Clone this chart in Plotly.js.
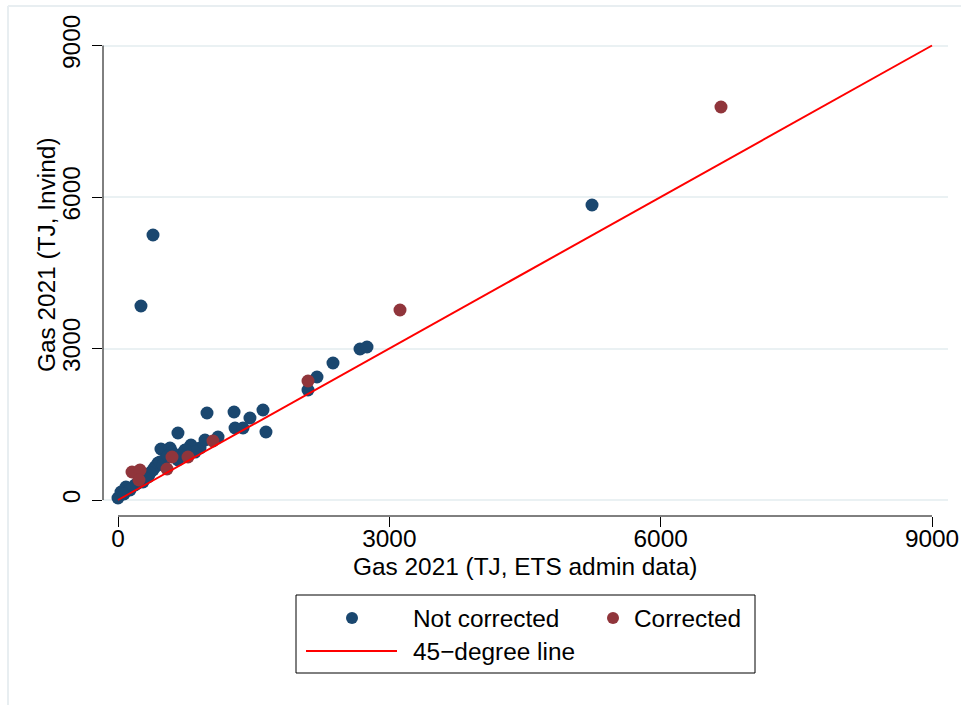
<!DOCTYPE html>
<html>
<head>
<meta charset="utf-8">
<script src="https://cdn.plot.ly/plotly-3.0.1.min.js"></script>
<style>
  html, body { margin: 0; padding: 0; background: #ffffff; }
  #chart { width: 961px; height: 705px; }
</style>
</head>
<body>
<div id="chart"></div>
<script>
// ---- Data ----
const notCorrectedX = [5241, 387, 254, 2676, 2753, 2377, 2200, 2101, 984, 1283, 1603, 1459, 1294, 1382, 1636, 1106,
  907, 807, 663, 475, 575, 796, 719, 851, 531, 663, 442, 409, 387, 332, 276, 188, 88, 33, 0,
  354, 464, 597, 630, 741, 962, 221, 133, 66, 299, 497, 553];
const notCorrectedY = [5842, 5248, 3842, 2990, 3030, 2713, 2436, 2178, 1723, 1743, 1782, 1624, 1426, 1426, 1347, 1248,
  1030, 1089, 1327, 1010, 1030, 1050, 931, 950, 832, 792, 733, 653, 594, 455, 356, 297, 257, 158, 40,
  535, 752, 950, 891, 990, 1188, 337, 198, 119, 436, 693, 871];
const correctedX = [6667, 3118, 2101, 1050, 774, 597, 542, 155, 243, 232];
const correctedY = [7782, 3762, 2356, 1168, 851, 851, 614, 554, 594, 396];
const lineX = [0, 9000];
const lineY = [0, 9000];
const tickVals = [0, 3000, 6000, 9000];
const tickText = ['0', '3000', '6000', '9000'];
const seriesNames = ['Not corrected', 'Corrected', '45\u2212degree line'];
const xTitle = 'Gas 2021 (TJ, ETS admin data)';
const yTitle = 'Gas 2021 (TJ, Invind)';

// ---- Styling ----
const W = 961, H = 705;
const M = { l: 103, r: 13, t: 30, b: 189 };
const PW = W - M.l - M.r, PH = H - M.t - M.b;
const px = v => (v - M.l) / PW;          // pixel x -> paper
const py = v => (H - M.b - v) / PH;      // pixel y -> paper
const BLUE = '#1a476f', MAROON = '#90353b', RED = '#ff0000';
const FONT = 'Liberation Sans, Arial, Helvetica, sans-serif';
const FS = 24.4;

const traces = [
  { x: notCorrectedX, y: notCorrectedY, type: 'scatter', mode: 'markers', name: seriesNames[0],
    marker: { color: BLUE, size: 13, line: { width: 0 } }, hoverinfo: 'x+y' },
  { x: correctedX, y: correctedY, type: 'scatter', mode: 'markers', name: seriesNames[1],
    marker: { color: MAROON, size: 13, line: { width: 0 } }, hoverinfo: 'x+y' },
  { x: lineX, y: lineY, type: 'scatter', mode: 'lines', name: seriesNames[2],
    line: { color: RED, width: 2 }, hoverinfo: 'skip' }
];

const axisCommon = {
  tickvals: tickVals, ticktext: tickText, ticks: 'outside', ticklen: 10, tickwidth: 1,
  tickcolor: '#000', showline: false, zeroline: false,
  tickfont: { family: FONT, size: FS, color: '#000' }
};

const legL = 296, legR = 755, legT = 595, legB = 673;
const layout = {
  width: W, height: H, margin: M,
  paper_bgcolor: '#ffffff', plot_bgcolor: '#ffffff',
  showlegend: false,
  font: { family: FONT, size: FS, color: '#000' },
  xaxis: Object.assign({}, axisCommon, {
    range: [-15 / (814 / 9000), 9000 + 16 / (814 / 9000)],
    showgrid: false, ticklabelstandoff: -9
  }),
  yaxis: Object.assign({}, axisCommon, {
    range: [-16 / (454.5 / 9000), 9000 + 15.5 / (454.5 / 9000)],
    showgrid: true, gridcolor: '#eaf1f3', gridwidth: 2, tickangle: -90, ticklabelstandoff: 2
  }),
  shapes: [
    // outer frame (left and top edges)
    { type: 'line', xref: 'paper', yref: 'paper', x0: px(8), x1: px(8), y0: py(6), y1: py(705),
      line: { color: '#e8eef1', width: 2 } },
    { type: 'line', xref: 'paper', yref: 'paper', x0: px(8), x1: px(961), y0: py(6), y1: py(6),
      line: { color: '#e8eef1', width: 2 } },
    // axis lines spanning the tick range
    { type: 'line', xref: 'paper', yref: 'y', x0: 0, x1: 0, y0: tickVals[0], y1: tickVals[tickVals.length - 1],
      line: { color: '#000', width: 1 } },
    { type: 'line', xref: 'x', yref: 'paper', x0: tickVals[0], x1: tickVals[tickVals.length - 1], y0: 0, y1: 0,
      line: { color: '#000', width: 1 } },
    // legend box
    { type: 'rect', xref: 'paper', yref: 'paper', x0: px(legL), x1: px(legR), y0: py(legB), y1: py(legT),
      line: { color: '#000', width: 1 }, fillcolor: 'rgba(0,0,0,0)' },
    // legend symbols
    { type: 'circle', xref: 'paper', yref: 'paper', xsizemode: 'pixel', ysizemode: 'pixel',
      xanchor: px(352), yanchor: py(618), x0: -6, x1: 6, y0: -6, y1: 6,
      fillcolor: BLUE, line: { width: 0 } },
    { type: 'circle', xref: 'paper', yref: 'paper', xsizemode: 'pixel', ysizemode: 'pixel',
      xanchor: px(613), yanchor: py(618), x0: -6, x1: 6, y0: -6, y1: 6,
      fillcolor: MAROON, line: { width: 0 } },
    { type: 'line', xref: 'paper', yref: 'paper', x0: px(306), x1: px(397), y0: py(651), y1: py(651),
      line: { color: RED, width: 2 } }
  ],
  annotations: [
    { text: xTitle, xref: 'paper', yref: 'paper', x: px(525), y: py(566), xanchor: 'center', yanchor: 'middle',
      showarrow: false, font: { family: FONT, size: FS, color: '#000' } },
    { text: yTitle, xref: 'paper', yref: 'paper', x: px(47), y: py(255), xanchor: 'center', yanchor: 'middle',
      textangle: -90, showarrow: false, font: { family: FONT, size: FS, color: '#000' } },
    { text: seriesNames[0], xref: 'paper', yref: 'paper', x: px(411), y: py(618), xanchor: 'left', yanchor: 'middle',
      showarrow: false, font: { family: FONT, size: FS, color: '#000' } },
    { text: seriesNames[1], xref: 'paper', yref: 'paper', x: px(632), y: py(618), xanchor: 'left', yanchor: 'middle',
      showarrow: false, font: { family: FONT, size: FS, color: '#000' } },
    { text: seriesNames[2], xref: 'paper', yref: 'paper', x: px(411), y: py(651), xanchor: 'left', yanchor: 'middle',
      showarrow: false, font: { family: FONT, size: FS, color: '#000' } }
  ]
};

Plotly.newPlot('chart', traces, layout, { displayModeBar: false, staticPlot: true });
</script>
</body>
</html>
